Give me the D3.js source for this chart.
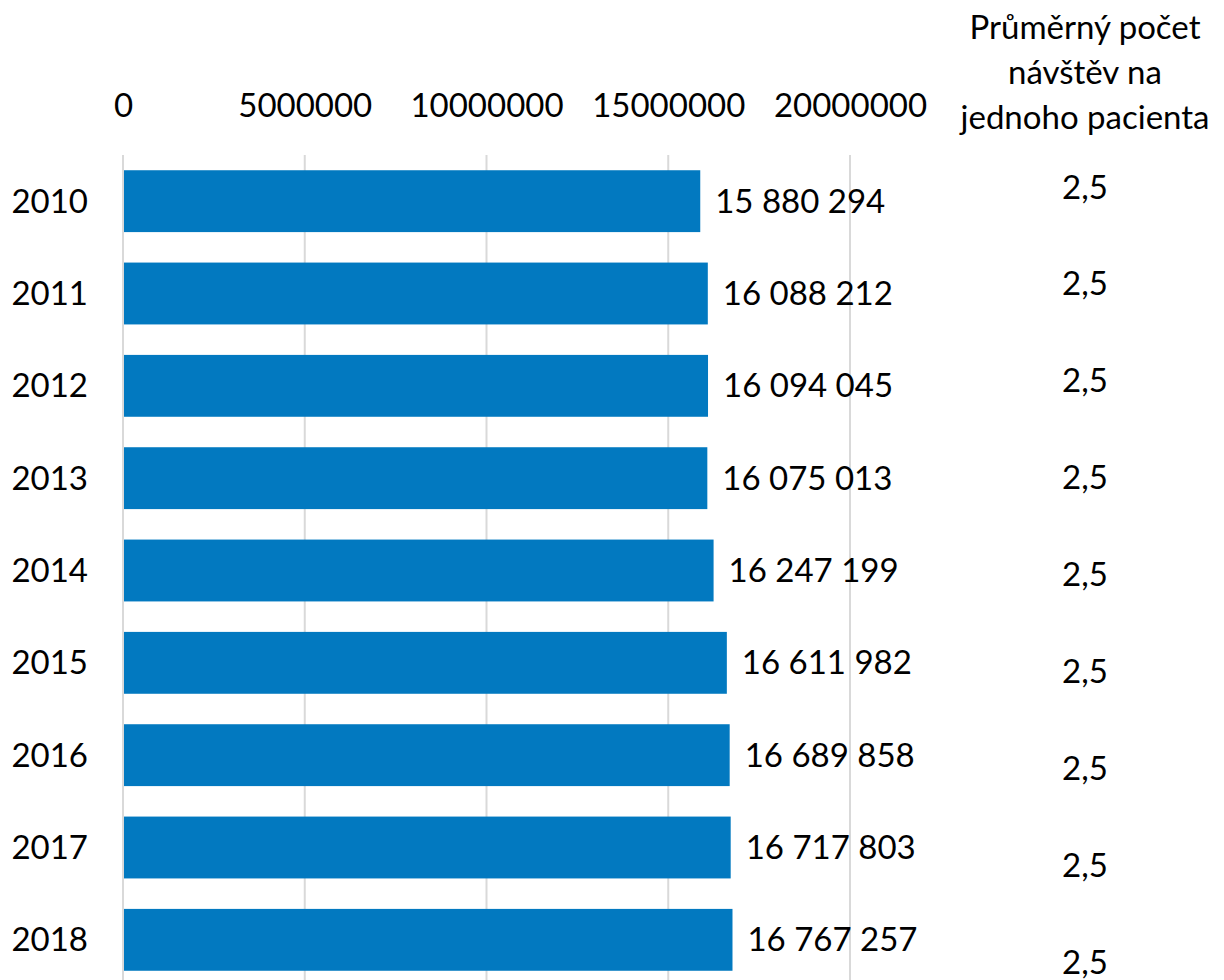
<!DOCTYPE html>
<html><head><meta charset="utf-8">
<script src="https://cdn.jsdelivr.net/npm/d3@7"></script>
<style>body{margin:0;background:#fff}svg{display:block}text{font-family:Lato,"Open Sans",sans-serif;fill:#000}</style>
</head><body>
<svg id="c" width="1224" height="980"></svg>
<script>
const years = ["2010","2011","2012","2013","2014","2015","2016","2017","2018"];
const visits = [15880294,16088212,16094045,16075013,16247199,16611982,16689858,16717803,16767257];
const avgVisits = ["2,5","2,5","2,5","2,5","2,5","2,5","2,5","2,5","2,5"];
const xTicks = [0,5000000,10000000,15000000,20000000];
const headerLines = ["Průměrný počet","návštěv na","jednoho pacienta"];

const svg = d3.select("#c");
const fs = 33;
const x = d3.scaleLinear().domain([0,20000000]).range([123,850]);
const y = d3.scaleBand().domain(years).range([155,986]).paddingInner(0.33).paddingOuter(0.165);
const yR = d3.scalePoint().domain(years).range([187,962]);

// gridlines
svg.append("g").selectAll("line").data(xTicks).join("line")
  .attr("x1",d=>x(d)).attr("x2",d=>x(d)).attr("y1",155).attr("y2",980)
  .attr("stroke","#d9d9d9").attr("stroke-width",2);

// top axis labels
const ax = svg.append("g").attr("transform","translate(0,105)")
  .call(d3.axisTop(x).tickValues(xTicks).tickFormat(d3.format("d")).tickSize(0).tickPadding(0));
ax.select(".domain").remove();
ax.selectAll("text").attr("font-size",fs).attr("dy","0.35em").style("font-family","Lato,'Open Sans',sans-serif");

// bars
svg.append("g").selectAll("rect").data(visits).join("rect")
  .attr("x",x(0)+1).attr("y",(d,i)=>y(years[i]))
  .attr("width",d=>x(d)-x(0)-1).attr("height",y.bandwidth())
  .attr("fill","#0279c0");

// value labels
const fmt = d => d3.format(",")(d).replace(/,/g," ");
svg.append("g").selectAll("text").data(visits).join("text")
  .attr("x",d=>x(d)+15).attr("y",(d,i)=>y(years[i])+y.bandwidth()/2)
  .attr("dy","0.35em").attr("font-size",fs).text(fmt);

// year labels
svg.append("g").selectAll("text").data(years).join("text")
  .attr("x",88).attr("y",d=>y(d)+y.bandwidth()/2).attr("dy","0.35em")
  .attr("text-anchor","end").attr("font-size",fs).text(d=>d);

// right column
svg.append("g").selectAll("text").data(avgVisits).join("text")
  .attr("x",1085).attr("y",(d,i)=>yR(years[i])).attr("dy","0.35em")
  .attr("text-anchor","middle").attr("font-size",fs).text(d=>d);

svg.append("g").selectAll("text").data(headerLines).join("text")
  .attr("x",1085).attr("y",(d,i)=>27+i*45).attr("dy","0.35em")
  .attr("text-anchor","middle").attr("font-size",fs).text(d=>d);
</script>
</body></html>
